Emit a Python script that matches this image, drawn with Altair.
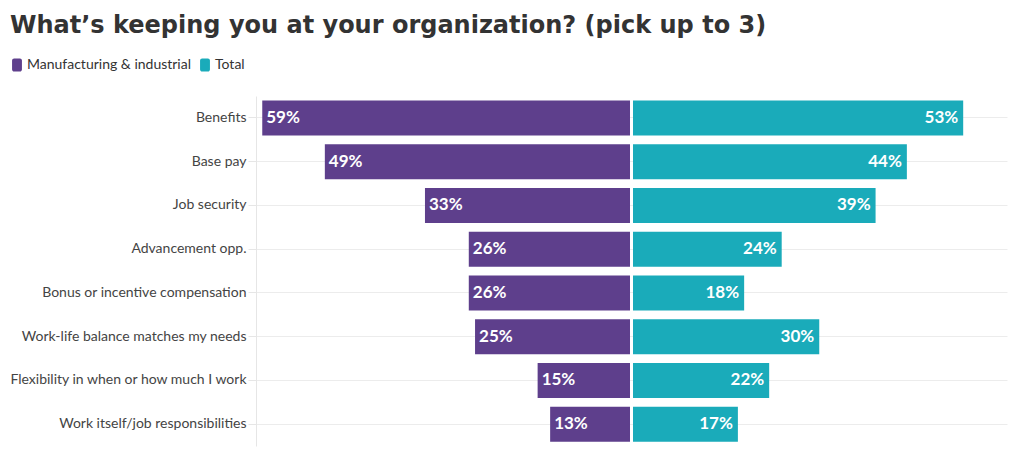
import altair as alt
import pandas as pd

categories = [
    "Benefits",
    "Base pay",
    "Job security",
    "Advancement opp.",
    "Bonus or incentive compensation",
    "Work-life balance matches my needs",
    "Flexibility in when or how much I work",
    "Work itself/job responsibilities",
]
manufacturing = [59, 49, 33, 26, 26, 25, 15, 13]
total = [53, 44, 39, 24, 18, 30, 22, 17]
series = ["Manufacturing & industrial", "Total"]
colors = ["#5E3F8C", "#1AABBA"]

rows = []
for c, m, t in zip(categories, manufacturing, total):
    rows.append({"category": c, "group": series[0], "value": m, "signed": -m, "label": f"{m}%"})
    rows.append({"category": c, "group": series[1], "value": t, "signed": t, "label": f"{t}%"})
df = pd.DataFrame(rows)

FONT = "Lato"
rounded = ("M-0.76,-0.68 A0.32,0.32 0 0 1 -0.44,-1 L0.44,-1 A0.32,0.32 0 0 1 0.76,-0.68 "
           "L0.76,0.68 A0.32,0.32 0 0 1 0.44,1 L-0.44,1 A0.32,0.32 0 0 1 -0.76,0.68 Z")

xscale = alt.Scale(domain=[-60, 60], nice=False, zero=False)
yenc = alt.Y(
    "category:N",
    sort=categories,
    title=None,
    scale=alt.Scale(paddingInner=0.2, paddingOuter=0.1),
    axis=alt.Axis(
        grid=True, gridColor="#ECECEC", gridWidth=1,
        domain=True, domainColor="#E6E6E6",
        ticks=True, tickColor="#E6E6E6", tickSize=8,
        labelFont=FONT, labelFontSize=14, labelColor="#444444", labelPadding=2,
        labelLimit=400,
    ),
)
color = alt.Color(
    "group:N",
    scale=alt.Scale(domain=series, range=colors),
    legend=alt.Legend(
        title=None, orient="none", direction="horizontal",
        legendX=-246, legendY=-38,
        symbolType=rounded, symbolSize=169, symbolStrokeWidth=0, symbolOpacity=1,
        labelFont=FONT, labelFontSize=14, labelColor="#333333",
        labelOffset=3, columnPadding=7, labelLimit=0,
    ),
)

base = alt.Chart(df)
left = base.transform_filter(alt.datum.group == series[0]).mark_bar(x2Offset=-1.5).encode(
    x=alt.X("signed:Q", scale=xscale, axis=None), x2=alt.X2Datum(0), y=yenc, color=color
)
right = base.transform_filter(alt.datum.group == series[1]).mark_bar(x2Offset=1.5).encode(
    x=alt.X("signed:Q", scale=xscale, axis=None), x2=alt.X2Datum(0), y=yenc, color=color
)
left_text = base.transform_filter(alt.datum.group == series[0]).mark_text(
    align="left", baseline="middle", dx=4, font=FONT, fontSize=17, fontWeight="bold", color="white"
).encode(x=alt.X("signed:Q", scale=xscale), y=alt.Y("category:N", sort=categories), text="label:N")
right_text = base.transform_filter(alt.datum.group == series[1]).mark_text(
    align="right", baseline="middle", dx=-5, font=FONT, fontSize=17, fontWeight="bold", color="white"
).encode(x=alt.X("signed:Q", scale=xscale), y=alt.Y("category:N", sort=categories), text="label:N")

chart = alt.layer(left, right, left_text, right_text).properties(
    width=751,
    height=350,
    autosize=alt.AutoSizeParams(type="none"),
    padding={"left": 248, "top": 88, "right": 5, "bottom": 10},
    title=alt.TitleParams(
        "What’s keeping you at your organization? (pick up to 3)",
        anchor="start", frame="group", dx=-246, offset=20,
        font="DejaVu Sans", fontSize=24, fontWeight="bold", color="#333333",
    ),
).configure_view(stroke=None)

chart.save("out.html", embed_options={"renderer": "svg", "actions": False})
